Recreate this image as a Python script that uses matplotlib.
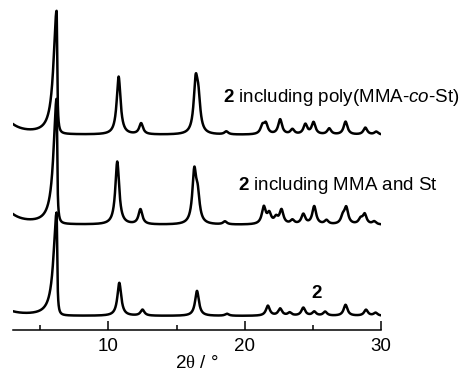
import matplotlib.pyplot as plt
import numpy as np
from matplotlib.ticker import MultipleLocator

plt.rcParams['font.family'] = ['Liberation Sans', 'DejaVu Sans']
plt.rcParams['mathtext.fontset'] = 'custom'
plt.rcParams['mathtext.rm'] = 'Liberation Serif'
plt.rcParams['mathtext.it'] = 'Liberation Sans:italic'
plt.rcParams['mathtext.bf'] = 'Liberation Sans:bold'

# peak tables: 2theta (deg), height above baseline
PURE_POS = [6.2, 10.8, 12.5, 16.5, 18.7, 21.7, 22.6, 23.3, 24.3, 25.1, 25.9, 27.4, 28.9, 29.6]
PURE_HEIGHT = [103, 33, 6, 25, 2, 10, 7, 3, 8, 4, 4, 11, 6, 3]

MONO_POS = [6.2, 10.65, 12.35, 16.3, 16.55, 18.55, 21.4, 21.8, 22.3, 22.7, 23.5, 24.3, 25.1, 26.0,
            27.2, 27.45, 28.5, 28.8, 29.5]
MONO_HEIGHT = [125, 63, 15, 50, 25, 3, 17, 10, 6, 14, 4, 10, 18, 4, 7, 16, 5, 10, 3]

POLY_POS = [6.2, 10.75, 12.4, 16.4, 16.6, 18.65, 21.3, 21.55, 22.6, 23.5, 24.45, 25.05, 26.2,
            27.4, 28.85, 29.65]
POLY_HEIGHT = [123, 58, 11, 48, 30, 3, 8, 10, 15, 5, 10, 12, 6, 13, 7, 3]

HALF_WIDTH = 0.17
MAIN_LEFT_WIDTH = 0.27
MAIN_RIGHT_WIDTH = 0.05

# baseline level of each trace and the low-angle background hump
BASELINES = [14, 105, 195]
LOW_ANGLE_BG = [8, 20, 20]

LABELS = [r"$\mathbf{2}$", r"$\mathbf{2}$ including MMA and St",
          r"$\mathbf{2}$ including poly(MMA-$\mathit{co}$-St)"]
LABEL_X = [25.27, 19.48, 18.38]
LABEL_Y = [37, 145, 233]


def pattern(x, positions, heights, background):
    y = background * 1.0 / ((x - 2.0) ** 2 + 1.0)
    for i, (p, h) in enumerate(zip(positions, heights)):
        if i == 0:
            w = np.where(x < p, MAIN_LEFT_WIDTH, MAIN_RIGHT_WIDTH)
        else:
            w = HALF_WIDTH
        y = y + h * w ** 2 / ((x - p) ** 2 + w ** 2)
    return y


two_theta = np.linspace(3, 30, 2701)
traces = [(PURE_POS, PURE_HEIGHT), (MONO_POS, MONO_HEIGHT), (POLY_POS, POLY_HEIGHT)]

fig = plt.figure(figsize=(4.61, 3.78), dpi=100)
ax = fig.add_axes([13 / 461, 48 / 378, 368 / 461, 325 / 378])

for (pos, height), base, bg in zip(traces, BASELINES, LOW_ANGLE_BG):
    ax.plot(two_theta, base + pattern(two_theta, pos, height, bg), color="black", lw=1.8)

for label, lx, ly in zip(LABELS, LABEL_X, LABEL_Y):
    ax.text(lx, ly, label, fontsize=13.5, va="center", ha="left" if lx < 25 else "center")

ax.set_xlim(3, 30)
ax.set_ylim(0, 325)
for side in ["left", "right", "top"]:
    ax.spines[side].set_visible(False)
ax.spines["bottom"].set_linewidth(1.1)
ax.set_yticks([])
ax.xaxis.set_major_locator(MultipleLocator(10))
ax.xaxis.set_minor_locator(MultipleLocator(5))
ax.tick_params(axis="x", which="major", direction="in", length=6.5, width=1.1, labelsize=13.5, pad=6)
ax.tick_params(axis="x", which="minor", direction="in", length=3.6, width=1.1)
ax.set_xlabel(r"2$\mathrm{\theta}$ / °", fontsize=13.5, labelpad=0)

plt.savefig("out.png", dpi=100)
plt.close()
